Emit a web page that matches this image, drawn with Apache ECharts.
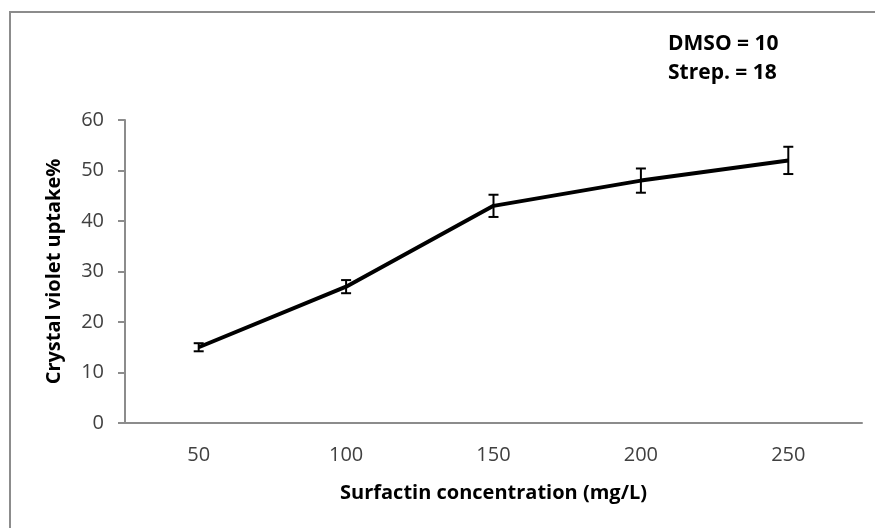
<!DOCTYPE html>
<html>
<head>
<meta charset="utf-8">
<script src="https://cdn.jsdelivr.net/npm/echarts@6/dist/echarts.min.js"></script>
<style>html,body{margin:0;padding:0;background:#fff}#c{width:875px;height:528px}</style>
</head>
<body>
<div id="c"></div>
<script>
var categories = ['50', '100', '150', '200', '250'];
var values = [15, 27, 43, 48, 52];
var errors = [0.8, 1.3, 2.2, 2.4, 2.7];
var yTicks = [0, 10, 20, 30, 40, 50, 60];
var xTitle = 'Surfactin concentration (mg/L)';
var yTitle = 'Crystal violet uptake%';
var noteLines = ['DMSO = 10', 'Strep. = 18'];

var FONT = '"Open Sans", "Liberation Sans", sans-serif';
var chart = echarts.init(document.getElementById('c'));
var errData = values.map(function (v, i) { return [i, v - errors[i], v + errors[i]]; });

chart.setOption({
  animation: false,
  backgroundColor: '#fff',
  grid: { left: 125, right: 13, top: 120, bottom: 105 },
  graphic: [
    { type: 'rect', shape: { x: 10, y: 12, width: 880, height: 540 }, style: { fill: 'none', stroke: '#8c8c8c', lineWidth: 2 }, silent: true },
    { type: 'text', left: 668, top: 30, style: { text: noteLines.join('\n'), font: 'bold 21px ' + FONT, fill: '#000', lineHeight: 29 } }
  ],
  xAxis: {
    type: 'category',
    data: categories,
    boundaryGap: true,
    axisLine: { lineStyle: { color: '#8c8c8c', width: 2 } },
    axisTick: { show: false },
    axisLabel: { color: '#404040', fontSize: 20, fontFamily: FONT, margin: 22 },
    name: xTitle,
    nameLocation: 'middle',
    nameGap: 60,
    nameTextStyle: { color: '#000', fontSize: 20, fontWeight: 'bold', fontFamily: FONT }
  },
  yAxis: {
    type: 'value',
    min: yTicks[0],
    max: yTicks[yTicks.length - 1],
    interval: 10,
    axisLine: { show: true, lineStyle: { color: '#8c8c8c', width: 2 } },
    axisTick: { show: true, length: 7, lineStyle: { color: '#8c8c8c', width: 2 } },
    splitLine: { show: false },
    axisLabel: { color: '#404040', fontSize: 20, fontFamily: FONT, margin: 21 },
    name: yTitle,
    nameLocation: 'middle',
    nameGap: 61,
    nameTextStyle: { color: '#000', fontSize: 20, fontWeight: 'bold', fontFamily: FONT }
  },
  series: [
    {
      type: 'line',
      data: values,
      symbol: 'none',
      lineStyle: { color: '#000', width: 4 },
      z: 2
    },
    {
      type: 'custom',
      data: errData,
      z: 3,
      renderItem: function (params, api) {
        var x = api.value(0);
        var lo = api.coord([x, api.value(1)]);
        var hi = api.coord([x, api.value(2)]);
        var hw = 5;
        var st = { stroke: '#000', lineWidth: 2 };
        return {
          type: 'group',
          children: [
            { type: 'line', shape: { x1: lo[0], y1: lo[1], x2: hi[0], y2: hi[1] }, style: st },
            { type: 'line', shape: { x1: lo[0] - hw, y1: lo[1], x2: lo[0] + hw, y2: lo[1] }, style: st },
            { type: 'line', shape: { x1: hi[0] - hw, y1: hi[1], x2: hi[0] + hw, y2: hi[1] }, style: st }
          ]
        };
      }
    }
  ]
});
</script>
</body>
</html>
